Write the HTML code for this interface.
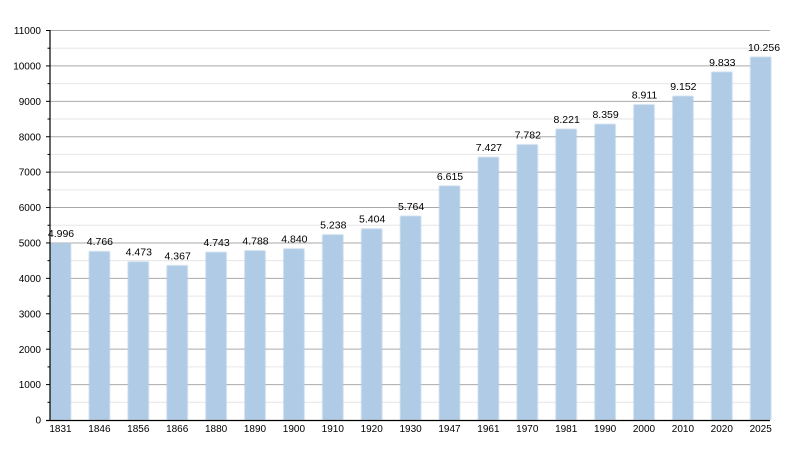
<!DOCTYPE html>
<html><head><meta charset="utf-8"><style>
html,body{margin:0;padding:0;background:#fff;}
svg{display:block;}
text{font-family:"Liberation Sans",Arial,sans-serif;fill:#000;}
</style></head><body>
<svg width="800" height="450" viewBox="0 0 800 450" xmlns="http://www.w3.org/2000/svg">
<defs><filter id="b" x="-20%" y="-5%" width="140%" height="110%"><feGaussianBlur stdDeviation="0.6"/></filter></defs>
<g stroke="#e6e6e6" stroke-width="1">
<line x1="50" x2="770" y1="402.30" y2="402.30"/>
<line x1="50" x2="770" y1="366.89" y2="366.89"/>
<line x1="50" x2="770" y1="331.48" y2="331.48"/>
<line x1="50" x2="770" y1="296.07" y2="296.07"/>
<line x1="50" x2="770" y1="260.66" y2="260.66"/>
<line x1="50" x2="770" y1="225.25" y2="225.25"/>
<line x1="50" x2="770" y1="189.84" y2="189.84"/>
<line x1="50" x2="770" y1="154.43" y2="154.43"/>
<line x1="50" x2="770" y1="119.02" y2="119.02"/>
<line x1="50" x2="770" y1="83.61" y2="83.61"/>
<line x1="50" x2="770" y1="48.20" y2="48.20"/>
</g>
<g stroke="#aaaaaa" stroke-width="1">
<line x1="50" x2="770" y1="384.59" y2="384.59"/>
<line x1="50" x2="770" y1="349.18" y2="349.18"/>
<line x1="50" x2="770" y1="313.77" y2="313.77"/>
<line x1="50" x2="770" y1="278.36" y2="278.36"/>
<line x1="50" x2="770" y1="242.95" y2="242.95"/>
<line x1="50" x2="770" y1="207.55" y2="207.55"/>
<line x1="50" x2="770" y1="172.14" y2="172.14"/>
<line x1="50" x2="770" y1="136.73" y2="136.73"/>
<line x1="50" x2="770" y1="101.32" y2="101.32"/>
<line x1="50" x2="770" y1="65.91" y2="65.91"/>
<line x1="50" x2="770" y1="30.50" y2="30.50"/>
</g>
<g fill="#b0cbe5" filter="url(#b)">
<rect x="50" y="243.10" width="21" height="176.90"/>
<rect x="88.9" y="251.24" width="21" height="168.76"/>
<rect x="127.8" y="261.62" width="21" height="158.38"/>
<rect x="166.7" y="265.37" width="21" height="154.63"/>
<rect x="205.6" y="252.06" width="21" height="167.94"/>
<rect x="244.5" y="250.46" width="21" height="169.54"/>
<rect x="283.4" y="248.62" width="21" height="171.38"/>
<rect x="322.3" y="234.53" width="21" height="185.47"/>
<rect x="361.2" y="228.65" width="21" height="191.35"/>
<rect x="400.1" y="215.90" width="21" height="204.10"/>
<rect x="439" y="185.77" width="21" height="234.23"/>
<rect x="477.9" y="157.02" width="21" height="262.98"/>
<rect x="516.8" y="144.45" width="21" height="275.55"/>
<rect x="555.7" y="128.90" width="21" height="291.10"/>
<rect x="594.6" y="124.02" width="21" height="295.98"/>
<rect x="633.5" y="104.47" width="21" height="315.53"/>
<rect x="672.4" y="95.94" width="21" height="324.06"/>
<rect x="711.3" y="71.82" width="21" height="348.18"/>
<rect x="750.2" y="56.85" width="21" height="363.15"/>
</g>
<g font-size="10.5" text-anchor="middle">
<text x="61" y="237.1">4.996</text>
<text x="99.9" y="245.2">4.766</text>
<text x="138.8" y="255.6">4.473</text>
<text x="177.7" y="259.4">4.367</text>
<text x="216.6" y="246.1">4.743</text>
<text x="255.5" y="244.5">4.788</text>
<text x="294.4" y="242.6">4.840</text>
<text x="333.3" y="228.5">5.238</text>
<text x="372.2" y="222.7">5.404</text>
<text x="411.1" y="209.9">5.764</text>
<text x="450" y="179.8">6.615</text>
<text x="488.9" y="151.0">7.427</text>
<text x="527.8" y="138.5">7.782</text>
<text x="566.7" y="122.9">8.221</text>
<text x="605.6" y="118.0">8.359</text>
<text x="644.5" y="98.5">8.911</text>
<text x="683.4" y="89.9">9.152</text>
<text x="722.3" y="65.8">9.833</text>
<text x="764" y="50.9">10.256</text>
</g>
<g font-size="10" text-anchor="middle">
<text x="60.5" y="432">1831</text>
<text x="99.4" y="432">1846</text>
<text x="138.3" y="432">1856</text>
<text x="177.2" y="432">1866</text>
<text x="216.1" y="432">1880</text>
<text x="255" y="432">1890</text>
<text x="293.9" y="432">1900</text>
<text x="332.8" y="432">1910</text>
<text x="371.7" y="432">1920</text>
<text x="410.6" y="432">1930</text>
<text x="449.5" y="432">1947</text>
<text x="488.4" y="432">1961</text>
<text x="527.3" y="432">1970</text>
<text x="566.2" y="432">1981</text>
<text x="605.1" y="432">1990</text>
<text x="644" y="432">2000</text>
<text x="682.9" y="432">2010</text>
<text x="721.8" y="432">2020</text>
<text x="760.7" y="432">2025</text>
</g>
<g font-size="10" text-anchor="end">
<text x="41" y="423.6">0</text>
<text x="41" y="388.2">1000</text>
<text x="41" y="352.8">2000</text>
<text x="41" y="317.4">3000</text>
<text x="41" y="282.0">4000</text>
<text x="41" y="246.6">5000</text>
<text x="41" y="211.2">6000</text>
<text x="41" y="175.7">7000</text>
<text x="41" y="140.3">8000</text>
<text x="41" y="104.9">9000</text>
<text x="41" y="69.5">10000</text>
<text x="41" y="34.1">11000</text>
</g>
<g stroke="#000" stroke-width="1">
<line x1="46" x2="50" y1="384.59" y2="384.59"/>
<line x1="46" x2="50" y1="349.18" y2="349.18"/>
<line x1="46" x2="50" y1="313.77" y2="313.77"/>
<line x1="46" x2="50" y1="278.36" y2="278.36"/>
<line x1="46" x2="50" y1="242.95" y2="242.95"/>
<line x1="46" x2="50" y1="207.55" y2="207.55"/>
<line x1="46" x2="50" y1="172.14" y2="172.14"/>
<line x1="46" x2="50" y1="136.73" y2="136.73"/>
<line x1="46" x2="50" y1="101.32" y2="101.32"/>
<line x1="46" x2="50" y1="65.91" y2="65.91"/>
<line x1="46" x2="50" y1="30.50" y2="30.50"/>
<line x1="47.5" x2="50" y1="402.30" y2="402.30"/>
<line x1="47.5" x2="50" y1="366.89" y2="366.89"/>
<line x1="47.5" x2="50" y1="331.48" y2="331.48"/>
<line x1="47.5" x2="50" y1="296.07" y2="296.07"/>
<line x1="47.5" x2="50" y1="260.66" y2="260.66"/>
<line x1="47.5" x2="50" y1="225.25" y2="225.25"/>
<line x1="47.5" x2="50" y1="189.84" y2="189.84"/>
<line x1="47.5" x2="50" y1="154.43" y2="154.43"/>
<line x1="47.5" x2="50" y1="119.02" y2="119.02"/>
<line x1="47.5" x2="50" y1="83.61" y2="83.61"/>
<line x1="47.5" x2="50" y1="48.20" y2="48.20"/>
</g>
<line x1="50" x2="50" y1="30" y2="421" stroke="#000" stroke-width="1.2"/>
<line x1="46" x2="770" y1="420.5" y2="420.5" stroke="#000" stroke-width="1.2"/>
</svg>
</body></html>
